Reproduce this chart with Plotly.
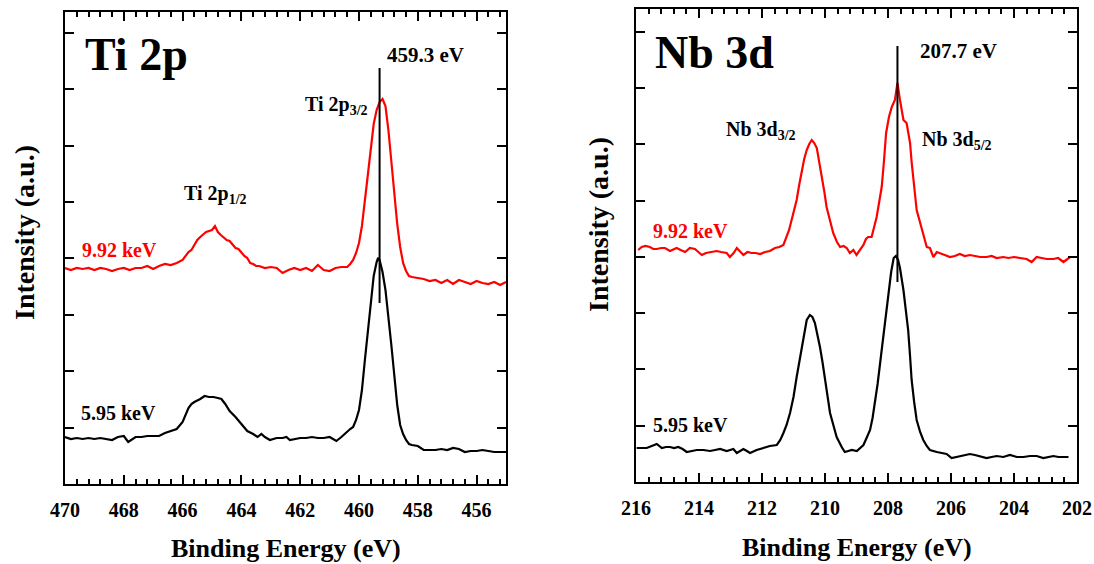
import plotly.graph_objects as go

W, H = 1094, 564
FONT = "Liberation Serif, Times New Roman, serif"

# ---------------- Ti 2p data ----------------
ti_energy_595 = [470.0, 469.8, 469.6, 469.4, 469.2, 469.0, 468.8, 468.6, 468.4, 468.2, 468.0, 467.85,
                 467.6, 467.4, 467.2, 467.0, 466.8, 466.6, 466.4, 466.2, 466.0, 465.9, 465.8, 465.7,
                 465.6, 465.4, 465.25, 465.1, 464.95, 464.8, 464.68, 464.55, 464.4, 464.2, 464.05,
                 463.9, 463.8, 463.6, 463.45, 463.32, 463.2, 463.03, 462.8, 462.6, 462.47, 462.35,
                 462.2, 462.0, 461.8, 461.6, 461.4, 461.2, 461.0, 460.77, 460.6, 460.5, 460.4, 460.3,
                 460.2, 460.1, 460.0, 459.9, 459.8, 459.7, 459.6, 459.5, 459.4, 459.35, 459.3, 459.2,
                 459.1, 459.0, 458.9, 458.8, 458.7, 458.6, 458.5, 458.4, 458.3, 458.2, 458.0, 457.8,
                 457.6, 457.4, 457.2, 457.0, 456.8, 456.6, 456.4, 456.2, 456.0, 455.8, 455.6, 455.4,
                 455.2, 455.0]
ti_595 = [47, 45, 46, 45, 46, 45, 46, 45, 44, 47, 48, 42,
          47, 47, 48, 48, 48, 51, 53, 55, 62, 69, 76, 80,
          82, 85, 88, 87, 87, 86, 85, 80, 73, 67, 62,
          56, 53, 50, 47, 50, 47, 44, 46, 46, 47, 44,
          45, 46, 46, 47, 46, 46, 47, 43, 47, 50, 52, 55,
          57, 64, 74, 94, 124, 154, 184, 208, 222, 226, 224, 212,
          194, 169, 139, 109, 79, 59, 50, 44, 40, 39, 38, 34,
          34, 34, 35, 34, 36, 35, 32, 33, 33, 34, 33, 32,
          32, 32]

ti_energy_992 = [470.0, 469.8, 469.6, 469.4, 469.2, 469.0, 468.8, 468.6, 468.4, 468.2, 468.0, 467.8,
                 467.6, 467.4, 467.2, 467.0, 466.8, 466.6, 466.4, 466.2, 466.0, 465.9, 465.8, 465.7,
                 465.6, 465.5, 465.4, 465.3, 465.2, 465.1, 465.0, 464.9, 464.8, 464.7, 464.6, 464.5,
                 464.4, 464.3, 464.2, 464.1, 464.0, 463.9, 463.8, 463.7, 463.6, 463.5, 463.4, 463.2,
                 463.0, 462.8, 462.6, 462.4, 462.2, 462.0, 461.8, 461.6, 461.4, 461.2, 461.0, 460.8,
                 460.6, 460.4, 460.3, 460.2, 460.1, 460.0, 459.9, 459.8, 459.7, 459.6, 459.5, 459.4,
                 459.3, 459.2, 459.1, 459.0, 458.9, 458.8, 458.7, 458.6, 458.5, 458.4, 458.3, 458.2,
                 458.0, 457.8, 457.6, 457.4, 457.2, 457.0, 456.8, 456.6, 456.4, 456.2, 456.0, 455.8,
                 455.6, 455.4, 455.2, 455.0]
ti_992 = [216, 214, 216, 215, 216, 214, 216, 215, 213, 215, 216, 214,
          216, 216, 218, 215, 218, 220, 219, 221, 224, 228, 232, 234,
          239, 244, 247, 250, 252, 253, 254, 258, 252, 249, 246, 244,
          243, 239, 236, 235, 231, 228, 226, 221, 220, 218, 218, 216,
          217, 216, 211, 214, 216, 214, 216, 213, 219, 214, 213, 216,
          217, 217, 220, 224, 231, 241, 258, 284, 312, 339, 360, 374,
          382, 385, 378, 354, 322, 291, 260, 237, 221, 213, 208, 207,
          206, 205, 203, 204, 201, 204, 200, 204, 202, 200, 203, 201,
          200, 202, 199, 202]

# ---------------- Nb 3d data ----------------
nb_energy_595 = [215.98, 215.82, 215.66, 215.50, 215.34, 215.18, 215.05, 214.92, 214.79, 214.66, 214.52,
                 214.39, 214.23, 214.07, 213.86, 213.65, 213.49, 213.33, 213.12, 212.91, 212.80, 212.70,
                 212.59, 212.48, 212.38, 212.17, 211.96, 211.75, 211.53, 211.42, 211.32, 211.22, 211.11,
                 211.0, 210.90, 210.82, 210.74, 210.66, 210.58, 210.48, 210.40, 210.32, 210.24, 210.16,
                 210.08, 210.0, 209.92, 209.84, 209.73, 209.63, 209.47, 209.37, 209.26, 209.15, 208.99,
                 208.88, 208.78, 208.68, 208.57, 208.49, 208.41, 208.33, 208.25, 208.17, 208.10, 207.99,
                 207.90, 207.82, 207.75, 207.68, 207.62, 207.51, 207.43, 207.36, 207.30, 207.25, 207.17,
                 207.09, 206.98, 206.88, 206.77, 206.67, 206.45, 206.30, 206.14, 205.98, 205.84, 205.71,
                 205.56, 205.40, 205.24, 205.08, 204.87, 204.71, 204.55, 204.34, 204.13, 203.91, 203.70,
                 203.49, 203.28, 203.07, 202.91, 202.75, 202.59, 202.43, 202.27]
nb_595 = [34, 34, 34, 36, 38, 34, 35, 35, 34, 35, 33,
          30, 31, 32, 32, 31, 32, 33, 31, 33, 29, 31,
          33, 31, 29, 32, 34, 36, 37, 42, 49, 57, 69,
          85, 105, 120, 135, 150, 162, 167, 165, 159, 148, 135,
          120, 105, 86, 69, 55, 45, 35, 30, 31, 32, 31,
          34, 37, 44, 52, 64, 79, 98, 119, 140, 160, 186,
          210, 224, 226, 222, 214, 192, 170, 152, 126, 102, 80,
          62, 50, 42, 36, 32, 30, 29, 28, 24, 25, 26,
          27, 28, 27, 26, 24, 25, 26, 25, 27, 25, 25,
          26, 26, 24, 25, 26, 25, 25, 25]

nb_energy_992 = [215.93, 215.82, 215.70, 215.56, 215.45, 215.34, 215.20, 215.08, 214.92, 214.80, 214.71,
                 214.58, 214.44, 214.29, 214.13, 214.02, 213.91, 213.78, 213.65, 213.44, 213.30, 213.12,
                 213.02, 212.90, 212.80, 212.69, 212.59, 212.46, 212.33, 212.20, 212.06, 211.90, 211.75,
                 211.59, 211.45, 211.32, 211.22, 211.14, 211.06, 210.98, 210.90, 210.82, 210.74, 210.66,
                 210.58, 210.50, 210.42, 210.34, 210.26, 210.18, 210.10, 210.02, 209.95, 209.85, 209.74,
                 209.62, 209.52, 209.41, 209.31, 209.21, 209.10, 209.00, 208.89, 208.78, 208.70, 208.63,
                 208.52, 208.44, 208.36, 208.28, 208.20, 208.13, 208.06, 207.97, 207.88, 207.78, 207.70,
                 207.62, 207.51, 207.41, 207.30, 207.25, 207.20, 207.14, 207.09, 207.01, 206.93, 206.85,
                 206.77, 206.67, 206.56, 206.45, 206.35, 206.20, 206.03, 205.88, 205.72, 205.56, 205.40,
                 205.24, 205.08, 204.87, 204.71, 204.55, 204.34, 204.18, 204.00, 203.81, 203.60, 203.44,
                 203.28, 203.12, 202.96, 202.75, 202.60, 202.43, 202.22, 202.03]
nb_992 = [232, 235, 236, 235, 233, 233, 234, 234, 231, 233, 234,
          232, 230, 234, 233, 230, 227, 229, 230, 231, 230, 229,
          225, 229, 234, 230, 227, 230, 229, 229, 228, 230, 231,
          234, 235, 237, 245, 252, 262, 272, 282, 297, 312, 323,
          332, 338, 342, 339, 334, 320, 305, 290, 275, 262, 249,
          240, 235, 236, 234, 229, 232, 227, 232, 237, 243, 245,
          245, 256, 265, 280, 295, 320, 349, 365, 375, 382, 399,
          382, 362, 359, 339, 320, 302, 287, 272, 262, 255, 245,
          235, 234, 225, 230, 229, 227, 225, 226, 228, 226, 227,
          226, 225, 225, 226, 224, 225, 224, 225, 224, 223, 220,
          225, 224, 223, 223, 224, 220, 225, 225]

# marker lines at peak positions (energy, bottom, top in a.u.)
ti_peak = [459.3, 181, 416]
nb_peak = [207.7, 200, 436]

ti_xticks = [470, 468, 466, 464, 462, 460, 458, 456]
nb_xticks = [216, 214, 212, 210, 208, 206, 204, 202]


def px(x):
    return x / W


def py(y):
    return 1 - y / H


fig = go.Figure()
fig.add_trace(go.Scatter(x=ti_energy_992, y=ti_992, mode="lines", line=dict(color="#ff0000", width=2.2),
                         xaxis="x", yaxis="y", showlegend=False))
fig.add_trace(go.Scatter(x=ti_energy_595, y=ti_595, mode="lines", line=dict(color="black", width=2.2),
                         xaxis="x", yaxis="y", showlegend=False))
fig.add_trace(go.Scatter(x=[ti_peak[0], ti_peak[0]], y=[ti_peak[1], ti_peak[2]], mode="lines",
                         line=dict(color="black", width=2), xaxis="x", yaxis="y", showlegend=False))
fig.add_trace(go.Scatter(x=nb_energy_992, y=nb_992, mode="lines", line=dict(color="#ff0000", width=2.2),
                         xaxis="x2", yaxis="y2", showlegend=False))
fig.add_trace(go.Scatter(x=nb_energy_595, y=nb_595, mode="lines", line=dict(color="black", width=2.2),
                         xaxis="x2", yaxis="y2", showlegend=False))
fig.add_trace(go.Scatter(x=[nb_peak[0], nb_peak[0]], y=[nb_peak[1], nb_peak[2]], mode="lines",
                         line=dict(color="black", width=2), xaxis="x2", yaxis="y2", showlegend=False))

tickfont = dict(family=FONT, size=20, color="black", weight="bold")
xcommon = dict(showline=True, linecolor="black", linewidth=2, mirror="ticks", ticks="inside",
               ticklen=9, tickwidth=1.5, tickcolor="black", tickfont=tickfont, showgrid=False,
               zeroline=False, automargin=False, ticklabelstandoff=7,
               minor=dict(dtick=0.4, ticks="inside", ticklen=5, tickwidth=1.5, tickcolor="black",
                          showgrid=False))
ycommon = dict(showline=True, linecolor="black", linewidth=2, mirror="ticks", ticks="inside",
               ticklen=9, tickwidth=1.5, tickcolor="black", showticklabels=False, showgrid=False,
               zeroline=False, tick0=0, automargin=False)

fig.update_layout(
    width=W, height=H, margin=dict(l=0, r=0, t=0, b=0, autoexpand=False),
    paper_bgcolor="white", plot_bgcolor="white",
    xaxis=dict(xcommon, domain=[px(65), px(506)], range=[470, 455], anchor="y",
               tickmode="array", tickvals=ti_xticks),
    yaxis=dict(ycommon, domain=[py(484), py(12)], range=[0, 472], dtick=56.4, anchor="x"),
    xaxis2=dict(xcommon, domain=[px(636), px(1077)], range=[216, 202], anchor="y2",
                tickmode="array", tickvals=nb_xticks),
    yaxis2=dict(ycommon, domain=[py(482), py(9)], range=[0, 473], dtick=56.3, anchor="x2"),
)


def ann(text, x, y, size, color="black", angle=0):
    fig.add_annotation(text=text, x=px(x), y=py(y), xref="paper", yref="paper", showarrow=False,
                       xanchor="center", yanchor="middle", textangle=angle,
                       font=dict(family=FONT, size=size, color=color, weight="bold"))


# Ti panel labels
ann("Ti 2p", 136, 55, 46)
ann("459.3 eV", 425, 55, 21)
ann("Ti 2p<sub>3/2</sub>", 336, 105, 20)
ann("Ti 2p<sub>1/2</sub>", 215, 195, 20)
ann("9.92 keV", 119, 250, 20, color="#ff0000")
ann("5.95 keV", 118, 413, 20)
ann("Binding Energy (eV)", 286, 548, 26)
ann("Intensity (a.u.)", 24, 233, 28, angle=-90)

# Nb panel labels
ann("Nb 3d", 714, 52, 46)
ann("207.7 eV", 958, 51, 21)
ann("Nb 3d<sub>3/2</sub>", 761, 130, 20)
ann("Nb 3d<sub>5/2</sub>", 957, 140, 20)
ann("9.92 keV", 690, 231, 20, color="#ff0000")
ann("5.95 keV", 690, 425, 20)
ann("Binding Energy (eV)", 857, 547, 26)
ann("Intensity (a.u.)", 598, 225, 28, angle=-90)

fig.write_html("out.html", config={"displayModeBar": False},
               post_script="document.body.style.margin='0';document.body.style.overflow='hidden';")
